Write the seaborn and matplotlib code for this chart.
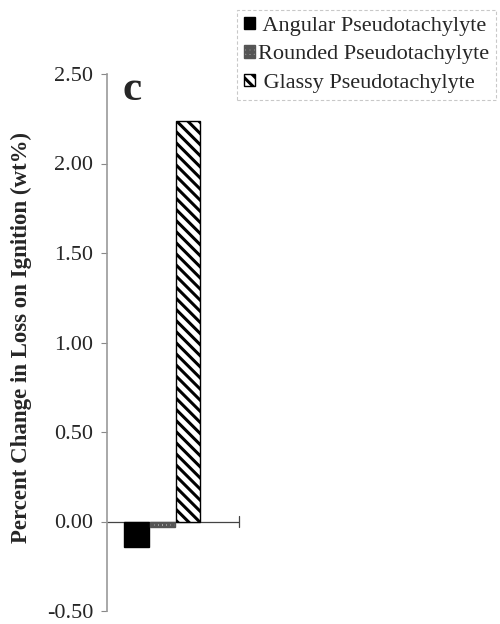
import matplotlib
matplotlib.use("Agg")
import matplotlib.pyplot as plt
import seaborn as sns
import pandas as pd
from matplotlib.patches import Patch

categories = ["Sample"]
series = ["Angular Pseudotachylyte", "Rounded Pseudotachylyte", "Glassy Pseudotachylyte"]
legend_labels = [" Angular Pseudotachylyte", "Rounded Pseudotachylyte", " Glassy Pseudotachylyte"]
values = [-0.14, -0.033, 2.24]
yticks = [-0.50, 0.00, 0.50, 1.00, 1.50, 2.00, 2.50]

df = pd.DataFrame({"cat": categories * len(series), "series": series, "value": values})

sns.set_style("white")
plt.rcParams["font.family"] = ["Liberation Serif", "DejaVu Serif"]
plt.rcParams["hatch.linewidth"] = 2.2

fig = plt.figure(figsize=(5.0, 6.24), dpi=100)
ax = fig.add_axes([107 / 500, 1 - 611 / 624, 132 / 500, 537 / 624])

sns.barplot(data=df, x="cat", y="value", hue="series", hue_order=series,
            palette=["black", "white", "white"], width=0.82, gap=0.04,
            edgecolor="black", linewidth=1.0, ax=ax, legend=False)

styles = [dict(fc="black", hatch=None, ec="black"),
          dict(fc="#e6e6e6", hatch="++++", ec="#555555"),
          dict(fc="white", hatch="\\\\\\", ec="black")]
for bar, st in zip(ax.patches, styles):
    bar.set_facecolor(st["fc"])
    if st["hatch"]:
        bar.set_hatch(st["hatch"])
    bar.set_edgecolor(st["ec"])

ax.set_ylim(-0.5, 2.5)
ax.set_xlim(-0.59, 0.82)
ax.set_yticks(yticks)
ax.set_yticklabels([f"{t:.2f}" for t in yticks], fontsize=16)
ax.set_xticks([])
ax.set_xlabel("")
ax.set_ylabel("Percent Change in Loss on Ignition (wt%)", fontsize=16.5,
              fontweight="bold")
ax.yaxis.set_label_coords(-0.57, 0.51)
ax.tick_params(axis="y", length=4, width=0.8, color="#888888", pad=6, left=True)

for s in ["top", "right", "bottom"]:
    ax.spines[s].set_visible(False)
ax.spines["left"].set_color("#999999")
ax.spines["left"].set_linewidth(1.2)
ax.axhline(0, color="#444444", linewidth=0.9, zorder=0.5)
ax.plot([0.82, 0.82], [-0.03, 0.03], color="#444444", linewidth=0.9, clip_on=False)

ax.text(0.12, 1.005, "c", transform=ax.transAxes, fontsize=31, fontweight="bold",
        va="top", ha="left")

handles = []
for name, st in zip(legend_labels, styles):
    handles.append(Patch(facecolor=st["fc"], edgecolor=st["ec"], hatch=st["hatch"], label=name))
leg = fig.legend(handles=handles, loc="upper left", bbox_to_anchor=(237 / 500, 1 - 10 / 624),
                 fontsize=16, frameon=True, handlelength=0.5, handleheight=0.5,
                 handletextpad=0.15, labelspacing=0.42, borderpad=0.3, borderaxespad=0,
                 fancybox=False)
leg.get_frame().set_edgecolor("#bbbbbb")
leg.get_frame().set_linestyle((0, (3, 2)))
leg.get_frame().set_linewidth(0.8)

fig.savefig("out.png", dpi=100)
